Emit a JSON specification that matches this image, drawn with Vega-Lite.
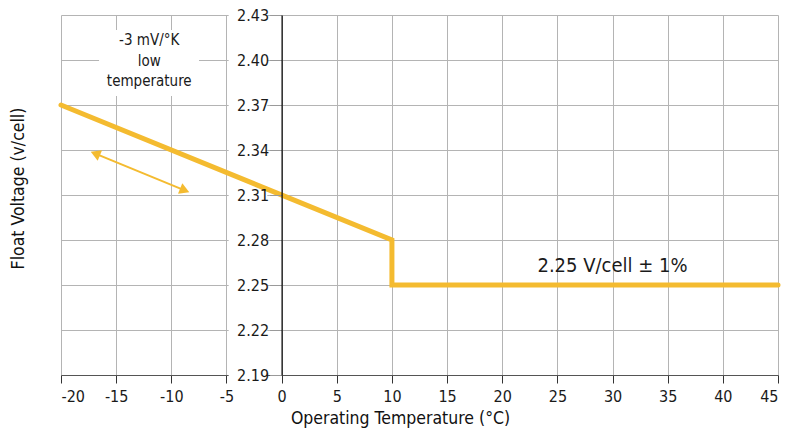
{
  "$schema": "https://vega.github.io/schema/vega-lite/v6.json",
  "width": 717,
  "height": 360,
  "autosize": {"type": "none"},
  "padding": {"left": 61, "top": 15, "right": 10, "bottom": 58},
  "background": "white",
  "config": {
    "view": {"stroke": null},
    "font": "DejaVu Sans Condensed, Roboto",
    "text": {"font": "DejaVu Sans Condensed, Roboto", "color": "#1a1a1a"},
    "axis": {
      "labelFont": "DejaVu Sans Condensed, Roboto",
      "titleFont": "DejaVu Sans Condensed, Roboto",
      "labelFontSize": 16,
      "titleFontSize": 17.5,
      "titleFontWeight": "normal",
      "labelColor": "#1a1a1a",
      "titleColor": "#111111",
      "gridColor": "#b4b4b4",
      "gridWidth": 1,
      "gridOpacity": 1
    },
    "axisX": {
      "grid": true,
      "domainColor": "#555555",
      "domainWidth": 1,
      "tickColor": "#333333",
      "tickSize": 8,
      "tickWidth": 1,
      "labelPadding": 5,
      "titleX": 339,
      "titleY": 43,
      "titleBaseline": "middle",
      "zindex": 0,
      "labelExpr": "replace(datum.label, '\u2212', '-')"
    }
  },
  "resolve": {"scale": {"y": "independent"}},
  "layer": [
    {
      "data": {"values": [{}]},
      "layer": [
        {
          "mark": {"type": "rect", "color": "white"},
          "encoding": {
            "x": {"datum": -4.8, "type": "quantitative", "scale": {"domain": [-20, 45]}, "title": "Operating Temperature (°C)", "axis": {"values": [-20, -15, -10, -5, 0, 5, 10, 15, 20, 25, 30, 35, 40, 45]}},
            "x2": {"datum": -1.3},
            "y": {
              "datum": 2.187, "type": "quantitative", "scale": {"domain": [2.19, 2.43]},
              "axis": {
                "title": "Float Voltage (v/cell)",
                "orient": "left", "offset": -220.6,
                "values": [2.19, 2.22, 2.25, 2.28, 2.31, 2.34, 2.37, 2.40, 2.43],
                "format": ".2f", "grid": false,
                "domain": true, "domainColor": "#000000", "domainWidth": 1.2,
                "ticks": true, "tickColor": "#9a9a9a", "tickSize": 12, "labelPadding": 1,
                "zindex": 1,
                "titleX": -263.6, "titleY": 173, "titleAngle": -90,
                "titleBaseline": "middle", "titleAlign": "center"
              }
            },
            "y2": {"datum": 2.433}
          }
        },
        {
          "mark": {"type": "rect", "color": "white"},
          "encoding": {
            "x": {"datum": -16.55, "type": "quantitative", "scale": {"domain": [-20, 45]}, "title": "Operating Temperature (°C)", "axis": {"values": [-20, -15, -10, -5, 0, 5, 10, 15, 20, 25, 30, 35, 40, 45]}},
            "x2": {"datum": -7.49},
            "y": {"datum": 2.376, "type": "quantitative", "scale": {"domain": [2.19, 2.43]}},
            "y2": {"datum": 2.42}
          }
        }
      ]
    },
    {
      "layer": [
        {
          "data": {"values": [
            {"i": 1, "temp": -20, "volt": 2.37},
            {"i": 2, "temp": 10, "volt": 2.28},
            {"i": 3, "temp": 10, "volt": 2.25},
            {"i": 4, "temp": 45, "volt": 2.25}
          ]},
          "mark": {"type": "line", "color": "#F4BB30", "strokeWidth": 5, "strokeCap": "round", "strokeJoin": "miter"},
          "encoding": {
            "x": {"field": "temp", "type": "quantitative", "scale": {"domain": [-20, 45]}, "title": "Operating Temperature (°C)", "axis": {"values": [-20, -15, -10, -5, 0, 5, 10, 15, 20, 25, 30, 35, 40, 45]}},
            "y": {
              "field": "volt", "type": "quantitative", "scale": {"domain": [2.19, 2.43]}, "title": null,
              "axis": {
                "orient": "right",
                "values": [2.19, 2.22, 2.25, 2.28, 2.31, 2.34, 2.37, 2.40, 2.43],
                "grid": true, "labels": false, "ticks": false, "domain": false, "zindex": 0
              }
            },
            "order": {"field": "i", "type": "quantitative"}
          }
        },
        {
          "data": {"values": [{}]},
          "mark": {"type": "rule", "color": "#F4BB30", "strokeWidth": 2},
          "encoding": {
            "x": {"datum": -16.89, "type": "quantitative", "scale": {"domain": [-20, 45]}, "title": "Operating Temperature (°C)", "axis": {"values": [-20, -15, -10, -5, 0, 5, 10, 15, 20, 25, 30, 35, 40, 45]}},
            "x2": {"datum": -8.785},
            "y": {"datum": 2.3376, "type": "quantitative", "scale": {"domain": [2.19, 2.43]}, "title": null},
            "y2": {"datum": 2.3131}
          }
        },
        {
          "data": {"values": [{}]},
          "mark": {"type": "point", "shape": "triangle-left", "filled": true, "opacity": 1, "color": "#F4BB30", "size": 130, "angle": 22.4},
          "encoding": {
            "x": {"datum": -16.89, "type": "quantitative", "scale": {"domain": [-20, 45]}, "title": "Operating Temperature (°C)", "axis": {"values": [-20, -15, -10, -5, 0, 5, 10, 15, 20, 25, 30, 35, 40, 45]}},
            "y": {"datum": 2.3376, "type": "quantitative", "scale": {"domain": [2.19, 2.43]}, "title": null}
          }
        },
        {
          "data": {"values": [{}]},
          "mark": {"type": "point", "shape": "triangle-right", "filled": true, "opacity": 1, "color": "#F4BB30", "size": 130, "angle": 22.4},
          "encoding": {
            "x": {"datum": -8.785, "type": "quantitative", "scale": {"domain": [-20, 45]}, "title": "Operating Temperature (°C)", "axis": {"values": [-20, -15, -10, -5, 0, 5, 10, 15, 20, 25, 30, 35, 40, 45]}},
            "y": {"datum": 2.3131, "type": "quantitative", "scale": {"domain": [2.19, 2.43]}, "title": null}
          }
        },
        {
          "data": {"values": [{}]},
          "mark": {"type": "text", "text": ["-3 mV/°K", "low", "temperature"], "fontSize": 15, "lineHeight": 20.5, "align": "center", "baseline": "alphabetic"},
          "encoding": {
            "x": {"datum": -12.0, "type": "quantitative", "scale": {"domain": [-20, 45]}, "title": "Operating Temperature (°C)", "axis": {"values": [-20, -15, -10, -5, 0, 5, 10, 15, 20, 25, 30, 35, 40, 45]}},
            "y": {"datum": 2.41, "type": "quantitative", "scale": {"domain": [2.19, 2.43]}, "title": null}
          }
        },
        {
          "data": {"values": [{}]},
          "mark": {"type": "text", "text": "2.25 V/cell ± 1%", "fontSize": 20, "align": "center", "baseline": "alphabetic"},
          "encoding": {
            "x": {"datum": 30.0, "type": "quantitative", "scale": {"domain": [-20, 45]}, "title": "Operating Temperature (°C)", "axis": {"values": [-20, -15, -10, -5, 0, 5, 10, 15, 20, 25, 30, 35, 40, 45]}},
            "y": {"datum": 2.2589, "type": "quantitative", "scale": {"domain": [2.19, 2.43]}, "title": null}
          }
        }
      ]
    }
  ]
}
